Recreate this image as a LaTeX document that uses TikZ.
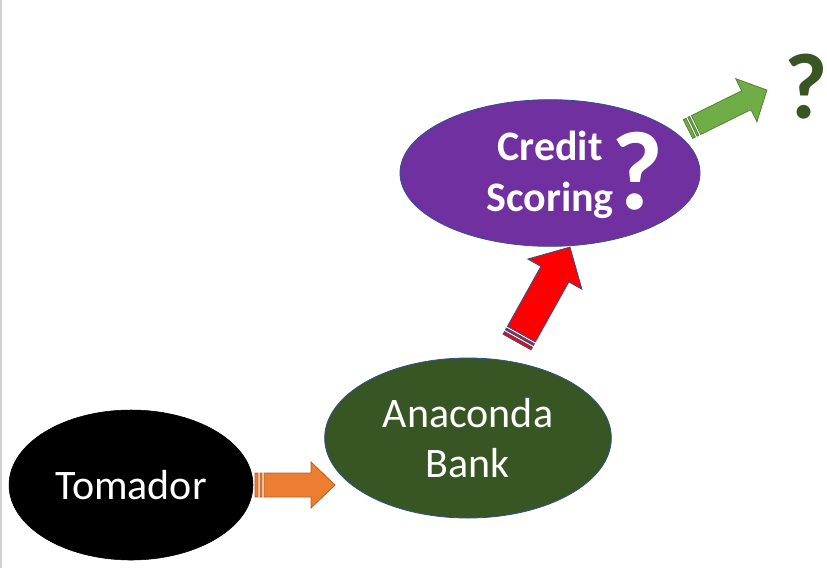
\documentclass[tikz,border=0pt]{standalone}
\usepackage{fontspec}
\setmainfont{Carlito}
\usetikzlibrary{shapes.geometric,calc}
\definecolor{bankgreen}{HTML}{375623}
\definecolor{scorepurple}{HTML}{7030A0}
\definecolor{arrorange}{HTML}{ED7D31}
\definecolor{arrgreen}{HTML}{70AD47}
\definecolor{edgeblue}{HTML}{2F528F}

% striped block arrow: style, tail, tip, shaft half width, head half width, head length
\newcommand{\stripedarrow}[6]{%
  \path let \p1=($(#3)-(#2)$) in \pgfextra{%
    \pgfmathsetmacro\arrang{atan2(\y1,\x1)}\global\let\arrang\arrang
    \pgfmathsetmacro\arrlen{veclen(\x1,\y1)/0.75}\global\let\arrlen\arrlen};
  \begin{scope}[shift={(#2)}, rotate=\arrang]
    \draw[#1] (0,-#4) rectangle (3,#4) (5,-#4) rectangle (7,#4)
      (9,-#4) -- ({\arrlen-#6},-#4) -- ({\arrlen-#6},-#5) -- (\arrlen,0)
      -- ({\arrlen-#6},#5) -- ({\arrlen-#6},#4) -- (9,#4) -- cycle;
  \end{scope}}

\begin{document}
\begin{tikzpicture}[x=0.75pt, y=-0.75pt,
  blob/.style={ellipse, inner sep=0pt, text=white, align=center},
  lbl/.style={font=\fontsize{31.5}{38}\selectfont},
  qmark/.style={font=\fontsize{#1}{#1}\selectfont\bfseries, inner sep=0pt},
  blockarr/.style={fill=#1, draw=#1!75!black, line width=0.6pt}]
  \useasboundingbox (0,0) rectangle (827,568);
  \draw[gray!35, line width=1.2pt] (1,0) -- (1,568);

  \node[blob, lbl, fill=black, draw=black, minimum width=183pt, minimum height=112.5pt] (tom) at (131,485) {Tomador};
  \node[blob, lbl, fill=bankgreen, draw=edgeblue, line width=0.6pt, minimum width=215pt, minimum height=120pt] (bank) at (468,438) {Anaconda\\Bank};
  \node[blob, fill=scorepurple, draw=edgeblue, line width=0.6pt, minimum width=225pt, minimum height=110pt] (score) at (550,173) {};
  \node[lbl, text=white, font=\fontsize{31.5}{38}\selectfont\bfseries, align=center, inner sep=0pt] (scoretxt) at (550,175) {Credit\\Scoring};
  \node[qmark=84, text=white] (q1) at (637,171) {?};
  \node[qmark=70, text=bankgreen] (q2) at (806,87) {?};

  \coordinate (a1) at (255,485); \coordinate (b1) at (335,485);
  \coordinate (a2) at (517,342); \coordinate (b2) at (570,247);
  \coordinate (a3) at (688,129); \coordinate (b3) at (767,90);
  \stripedarrow{blockarr=arrorange}{a1}{b1}{12}{23}{24}
  \stripedarrow{fill=red, draw=edgeblue, line width=0.6pt}{a2}{b2}{16}{31}{31}
  \stripedarrow{blockarr=arrgreen}{a3}{b3}{10.5}{24}{23}
\end{tikzpicture}
\end{document}
